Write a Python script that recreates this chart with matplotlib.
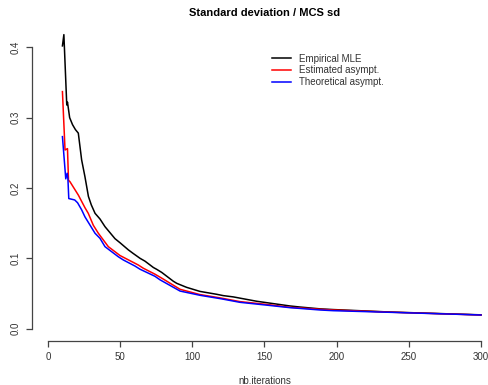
import matplotlib
matplotlib.use("Agg")
import matplotlib.pyplot as plt

plt.rcParams['font.family'] = ['Liberation Sans', 'DejaVu Sans']

# Data
black_x = [10, 11, 13, 13.5, 15, 17, 19, 21, 23.3, 25.6, 28, 30, 32.6, 36, 39.5,
           46.4, 50, 55.7, 59, 63.8, 67.2, 73, 75.3, 78.8, 86.8, 89.2, 96, 105.3,
           116.9, 121.5, 128.4, 144.6, 151.5, 167.7, 174.6, 188.5, 197.7, 237, 300]
black_y = [0.402, 0.418, 0.318, 0.322, 0.300, 0.290, 0.283, 0.278, 0.240, 0.216,
           0.188, 0.176, 0.164, 0.156, 0.145, 0.128, 0.1220, 0.112, 0.107, 0.100,
           0.0960, 0.0870, 0.0844, 0.0800, 0.0675, 0.0645, 0.0588, 0.0530,
           0.0489, 0.0470, 0.0452, 0.0390, 0.0370, 0.0323, 0.0308, 0.0282, 0.0272,
           0.0237, 0.0197]

red_x = [10, 11.8, 13.5, 14.2, 15.2, 21, 25.6, 27.9, 31.4, 34.9, 41.8, 49.9,
         62.6, 66, 74.1, 79.9, 91.5, 105.3, 120, 133, 151.5, 167.7, 188.5,
         197.7, 237, 300]
red_y = [0.337, 0.254, 0.256, 0.211, 0.209, 0.190, 0.172, 0.164, 0.147, 0.1356,
         0.1166, 0.1040, 0.0905, 0.0860, 0.0775, 0.0705, 0.0560, 0.0485, 0.0435,
         0.0385, 0.0345, 0.0304, 0.0276, 0.0266, 0.0235, 0.0195]

blue_x = [10, 12.3, 13.3, 13.8, 14.4, 18.5, 20.5, 23.3, 25.6, 32.6, 36, 39.5,
          48.7, 52.2, 60.3, 63.8, 74.1, 77.6, 91.5, 105.3, 120, 133, 151.5,
          167.7, 188.5, 197.7, 237, 300]
blue_y = [0.273, 0.213, 0.221, 0.213, 0.185, 0.183, 0.179, 0.169, 0.159, 0.1356,
          0.1285, 0.1166, 0.1023, 0.0977, 0.0890, 0.0845, 0.0745, 0.0695, 0.0535,
          0.0475, 0.0425, 0.0375, 0.0335, 0.0299, 0.0266, 0.0256, 0.0233,
          0.0195]

labels = ["Empirical MLE", "Estimated asympt.", "Theoretical asympt."]
colors = ["black", "red", "blue"]
x_ticks = [0, 50, 100, 150, 200, 250, 300]
y_ticks = [0.0, 0.1, 0.2, 0.3, 0.4]
y_tick_labels = ["0.0", "0.1", "0.2", "0.3", "0.4"]

W, H = 489, 385
fig = plt.figure(figsize=(W / 100, H / 100), dpi=100)
ax = fig.add_axes([48 / W, (H - 328.7) / H, 433 / W, 281.4 / H])
ax.set_xlim(0, 300)
ax.set_ylim(0, 0.4)

for xs, ys, c, lab in zip([black_x, red_x, blue_x], [black_y, red_y, blue_y], colors, labels):
    ax.plot(xs, ys, color=c, lw=1.1, label=lab, clip_on=False)

for s in ['top', 'right']:
    ax.spines[s].set_visible(False)
ax.spines['left'].set_position(('outward', 11.5))
ax.spines['bottom'].set_position(('outward', 8.5))
ax.spines['left'].set_bounds(0, 0.4)
ax.spines['bottom'].set_bounds(0, 300)
for s in ['left', 'bottom']:
    ax.spines[s].set_color('#444444')
    ax.spines[s].set_linewidth(0.9)

ax.set_xticks(x_ticks)
ax.set_yticks(y_ticks)
ax.set_yticklabels(y_tick_labels, rotation=90, va='center')
ax.tick_params(axis='both', length=4.5, width=0.9, color='#444444',
               labelsize=7, labelcolor='#333333')
ax.tick_params(axis='y', pad=3.5)
ax.tick_params(axis='x', pad=3.8)

fig.text(265 / W, 1 - 13 / H, "Standard deviation / MCS sd", ha='center', va='center',
         fontsize=8, fontweight='bold')
fig.text(264.5 / W, 1 - 381 / H, "nb.iterations", ha='center', va='center',
         fontsize=7, color='#333333')

leg = ax.legend(loc='upper left', bbox_to_anchor=(272 / W, 1 - 53.5 / H),
                bbox_transform=fig.transFigure, frameon=False, fontsize=7,
                handlelength=2.0, handletextpad=0.8, labelspacing=0.2,
                borderpad=0, borderaxespad=0)
for t in leg.get_texts():
    t.set_color('#333333')

fig.savefig("out.png", dpi=100)
